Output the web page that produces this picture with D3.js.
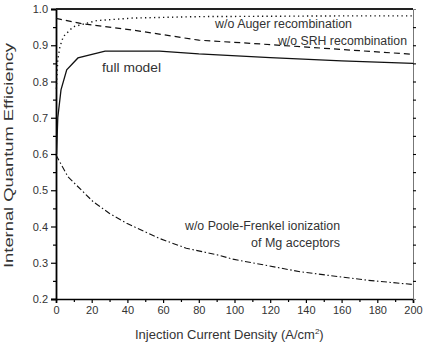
<!DOCTYPE html>
<html>
<head>
<meta charset="utf-8">
<script src="https://cdn.jsdelivr.net/npm/d3@7"></script>
<style>
  body { margin: 0; background: #fff; }
  text { font-family: "Liberation Sans", Arial, sans-serif; fill: #333; }
</style>
</head>
<body>
<div id="chart"></div>
<script>
// values
const xFull = [0.3, 1, 2.8, 6, 12.3, 27.5, 58, 80, 120, 160, 200];
const yFull = [0.6, 0.7, 0.777, 0.832, 0.865, 0.884, 0.884, 0.876, 0.866, 0.857, 0.85];

const xAuger = [0.2, 1, 2.2, 4.1, 9.7, 22.8, 43, 80, 120, 160, 200];
const yAuger = [0.78, 0.86, 0.896, 0.924, 0.951, 0.968, 0.975, 0.979, 0.98, 0.981, 0.981];

const xSrh = [0, 15, 43, 80, 110, 137, 170, 200];
const ySrh = [0.974, 0.959, 0.942, 0.914, 0.905, 0.896, 0.885, 0.875];

const xPf = [0, 6.7, 20.9, 30, 39.6, 58, 73, 91, 99, 137, 174, 200];
const yPf = [0.597, 0.537, 0.468, 0.436, 0.409, 0.367, 0.34, 0.321, 0.31, 0.275, 0.252, 0.24];

const xTicks = [0, 20, 40, 60, 80, 100, 120, 140, 160, 180, 200];
const yTicks = [0.2, 0.3, 0.4, 0.5, 0.6, 0.7, 0.8, 0.9, 1.0];

const width = 427, height = 347;
const margin = { top: 9, right: 14, bottom: 48, left: 56 };

const svg = d3.select("#chart").append("svg")
  .attr("width", width)
  .attr("height", height);

const x = d3.scaleLinear().domain([0, 200]).range([margin.left, width - margin.right]);
const y = d3.scaleLinear().domain([0.2, 1.0]).range([height - margin.bottom, margin.top]);

// minor ticks
const xMinor = d3.range(10, 200, 20);
const yMinor = d3.range(0.25, 1.0, 0.1);

// bottom axis
const xAxis = svg.append("g")
  .attr("transform", `translate(0,${y(0.2)})`)
  .call(d3.axisBottom(x).tickValues(xTicks).tickSize(4).tickPadding(3).tickFormat(d3.format("d")));
xAxis.select(".domain").attr("stroke", "#000").attr("stroke-width", 1.6);
xAxis.selectAll(".tick line").attr("stroke", "#000").attr("stroke-width", 1.2);
xAxis.selectAll("text").style("font-size", "11px").attr("fill", "#555");
svg.append("g")
  .attr("transform", `translate(0,${y(0.2)})`)
  .call(d3.axisBottom(x).tickValues(xMinor).tickSize(3).tickFormat(""))
  .call(g => g.select(".domain").remove())
  .selectAll(".tick line").attr("stroke", "#000").attr("stroke-width", 1.2);

// left axis
const yAxis = svg.append("g")
  .attr("transform", `translate(${x(0)},0)`)
  .call(d3.axisLeft(y).tickValues(yTicks).tickSize(5).tickPadding(3).tickFormat(d3.format(".1f")));
yAxis.select(".domain").attr("stroke", "#000").attr("stroke-width", 1.8);
yAxis.selectAll(".tick line").attr("stroke", "#000").attr("stroke-width", 1.2);
yAxis.selectAll("text").style("font-size", "11px").attr("fill", "#555");
svg.append("g")
  .attr("transform", `translate(${x(0)},0)`)
  .call(d3.axisLeft(y).tickValues(yMinor).tickSize(3).tickFormat(""))
  .call(g => g.select(".domain").remove())
  .selectAll(".tick line").attr("stroke", "#000").attr("stroke-width", 1.2);

// right axis
svg.append("g")
  .attr("transform", `translate(${x(200)},0)`)
  .call(d3.axisRight(y).tickValues(d3.range(0.25, 1.0, 0.05)).tickSize(3).tickFormat(""))
  .call(g => g.select(".domain").attr("stroke", "#777").attr("stroke-width", 1))
  .selectAll(".tick line").attr("stroke", "#000").attr("stroke-width", 1.1);

// top border
svg.append("line")
  .attr("x1", x(0)).attr("x2", x(200))
  .attr("y1", y(1.0)).attr("y2", y(1.0))
  .attr("stroke", "#222").attr("stroke-width", 2);

const line = d3.line().x(d => x(d[0])).y(d => y(d[1]));

const series = [
  { xs: xFull, ys: yFull, dash: null, w: 1.3 },
  { xs: xAuger, ys: yAuger, dash: "1.3,3.2", w: 1.4 },
  { xs: xSrh, ys: ySrh, dash: "6,4", w: 1.2 },
  { xs: xPf, ys: yPf, dash: "6,2.5,1.5,2.5", w: 1.1 }
];

svg.append("g").selectAll("path")
  .data(series)
  .join("path")
  .attr("d", s => line(d3.zip(s.xs, s.ys)))
  .attr("fill", "none")
  .attr("stroke", "#111")
  .attr("stroke-width", s => s.w)
  .attr("stroke-dasharray", s => s.dash);

// curve labels (the source text is slightly stretched, so fix widths)
const labels = [
  { t: "w/o Auger recombination", px: 215, py: 28, len: 137 },
  { t: "w/o SRH recombination", px: 278, py: 45, len: 129 },
  { t: "full model", px: 102, py: 72, len: 59 },
  { t: "w/o Poole-Frenkel ionization", px: 185, py: 230, len: 155 },
  { t: "of Mg acceptors", px: 251, py: 247, len: 89 }
];
svg.append("g").selectAll("text")
  .data(labels)
  .join("text")
  .attr("x", d => d.px)
  .attr("y", d => d.py)
  .attr("textLength", d => d.len)
  .attr("lengthAdjust", "spacingAndGlyphs")
  .style("font-size", "12.5px")
  .text(d => d.t);

// axis titles
const xt = svg.append("text")
  .attr("x", 135)
  .attr("y", 339)
  .style("font-size", "13px")
  .attr("fill", "#222");
xt.append("tspan").text("Injection Current Density (A/cm");
xt.append("tspan").attr("dy", -5).style("font-size", "8px").text("2");
xt.append("tspan").attr("dy", 5).text(")");

svg.append("text")
  .attr("transform", `translate(12.5,${(43 + 268) / 2}) rotate(-90)`)
  .attr("text-anchor", "middle")
  .attr("textLength", 225)
  .attr("lengthAdjust", "spacingAndGlyphs")
  .style("font-size", "13px")
  .attr("fill", "#222")
  .text("Internal Quantum Efficiency");
</script>
</body>
</html>
